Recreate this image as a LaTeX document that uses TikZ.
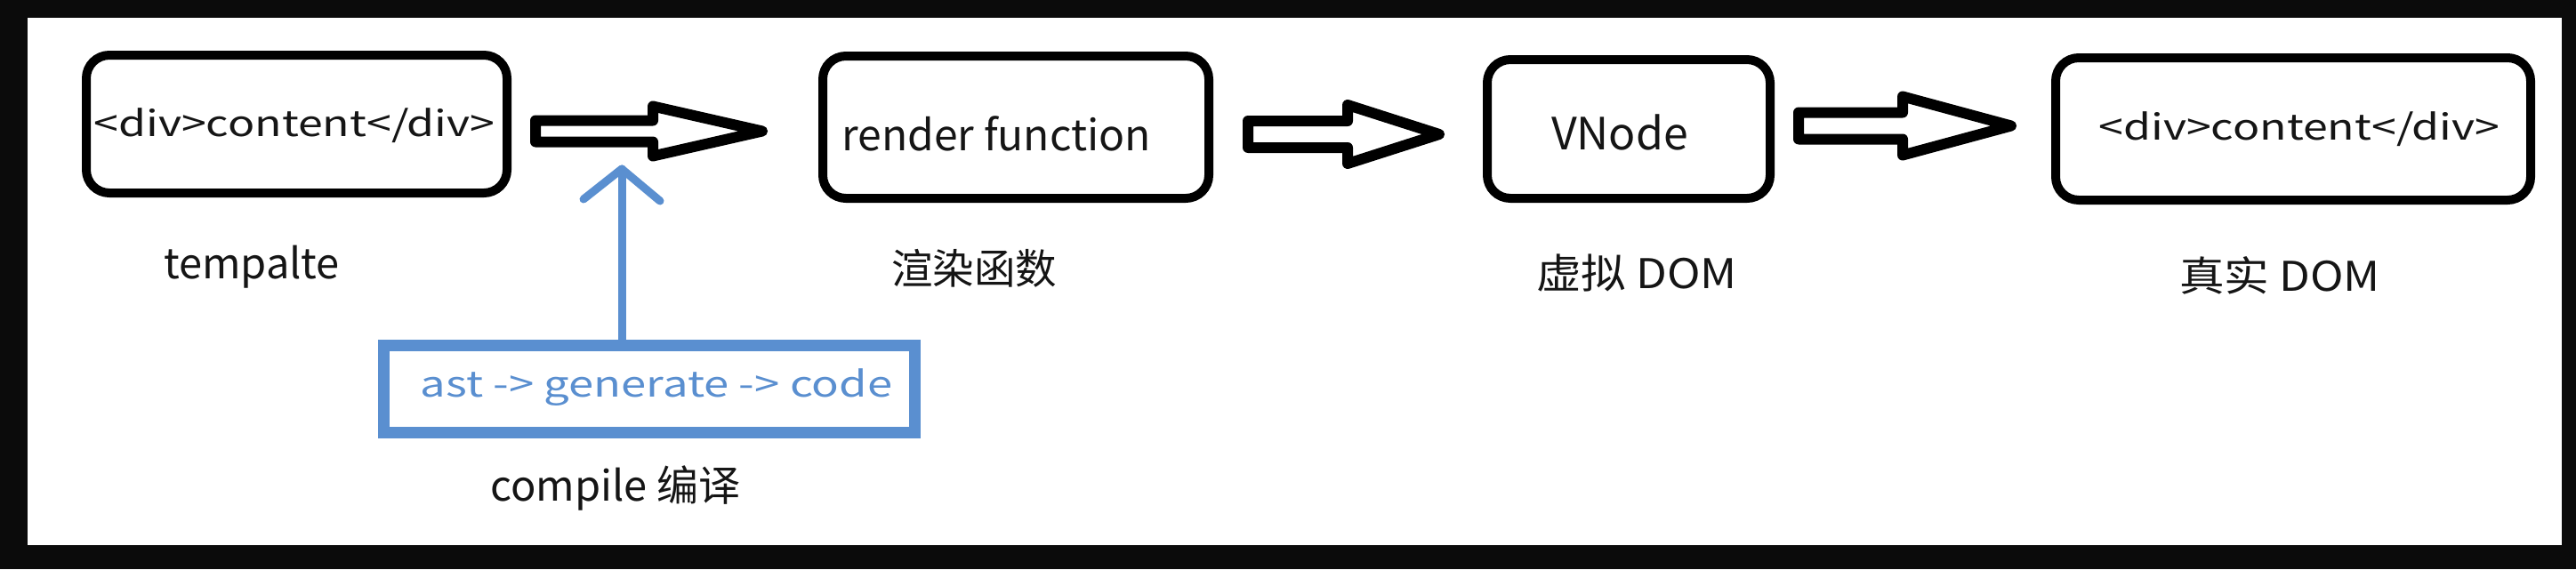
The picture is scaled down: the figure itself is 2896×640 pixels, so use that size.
\documentclass[tikz,border=0pt]{standalone}
\usepackage{fontspec}
\setmainfont{Noto Sans CJK SC}
\definecolor{frameblack}{HTML}{0B0B0B}
\definecolor{cblue}{HTML}{5A8FD0}
\definecolor{ink}{HTML}{151515}
\tikzset{
  boxnode/.style={draw=black, line width=10pt, rounded corners=26pt, inner sep=0pt, fill=white},
  blockarr/.style={draw=black, line width=12pt, fill=white, line join=round},
  bluebox/.style={draw=cblue, line width=13pt, inner sep=0pt},
  bluelink/.style={draw=cblue, line width=9pt, line cap=round, line join=round},
  boxtext/.style={inner sep=0pt, text=ink, anchor=base},
  labeltext/.style={inner sep=0pt, text=ink}
}
\newcommand\blockarrow[5]{%
  \draw[blockarr] ([yshift=#4]#1) -- ([yshift=#4]#2) -- ([yshift=#5]#2) -- (#3)
    -- ([yshift=-#5]#2) -- ([yshift=-#4]#2) -- ([yshift=-#4]#1) -- cycle;}
\begin{document}
\begin{tikzpicture}[x=1pt,y=-1pt]
\useasboundingbox (0,0) rectangle (2896,640);
\fill[frameblack] (0,0) rectangle (2896,640);
\fill[white] (31,20) rectangle (2880,613);

% boxes
\node[boxnode, minimum width=473pt, minimum height=155pt] (b1) at (333.5,139.5) {};
\node[boxnode, minimum width=434pt, minimum height=160pt] (b2) at (1142,143) {};
\node[boxnode, minimum width=318pt, minimum height=156pt] (b3) at (1831,145) {};
\node[boxnode, minimum width=534pt, minimum height=160pt] (b4) at (2578,145) {};

% box texts
\node[boxtext, font=\fontsize{40}{46}\selectfont] (t1) at (331,153) {\scalebox{1.25}[1]{<div>content</div>}};
\node[boxtext, font=\fontsize{48}{55}\selectfont] (t2) at (1120,169) {render function};
\node[boxtext, font=\fontsize{50}{57}\selectfont] (t3) at (1821,168) {VNode};
\node[boxtext, font=\fontsize{40}{46}\selectfont] (t4) at (2585,157) {\scalebox{1.25}[1]{<div>content</div>}};

% labels
\node[labeltext, anchor=base, font=\fontsize{47}{54}\selectfont] (l1) at (283,313) {tempalte};
\node[labeltext, font=\fontsize{46.5}{53}\selectfont] (l2) at (1095,302) {渲染函数};
\node[labeltext, font=\fontsize{46}{53}\selectfont] (l3) at (1840,307) {\scalebox{1.1}[1]{虚拟 DOM}};
\node[labeltext, font=\fontsize{46}{53}\selectfont] (l4) at (2563,310) {\scalebox{1.1}[1]{真实 DOM}};

% block arrows
\coordinate (a1s) at (602,147.5); \coordinate (a1b) at (734,147.5); \coordinate (a1t) at (857,147.5);
\coordinate (a2s) at (1403,151);  \coordinate (a2b) at (1515,151);  \coordinate (a2t) at (1618,151);
\coordinate (a3s) at (2022,141.5);\coordinate (a3b) at (2139,141.5);\coordinate (a3t) at (2261,141.5);
\blockarrow{a1s}{a1b}{a1t}{12pt}{28pt}
\blockarrow{a2s}{a2b}{a2t}{15pt}{33pt}
\blockarrow{a3s}{a3b}{a3t}{15pt}{33pt}

% compile box
\node[bluebox, minimum width=597pt, minimum height=98pt] (cb) at (730,437.5) {};
\node[boxtext, text=cblue, font=\fontsize{40}{46}\selectfont] (ct) at (738,446) {\scalebox{1.27}[1]{ast -> generate -> code}};
\node[labeltext, anchor=base, font=\fontsize{47}{54}\selectfont] (l5) at (692,563) {compile 编译};

% blue arrow
\coordinate (bt) at (699,190);
\draw[bluelink] (cb.north -| bt) -- (bt);
\draw[bluelink] ([shift={(-43,34)}]bt) -- (bt) -- ([shift={(43,36)}]bt);
\end{tikzpicture}
\end{document}
